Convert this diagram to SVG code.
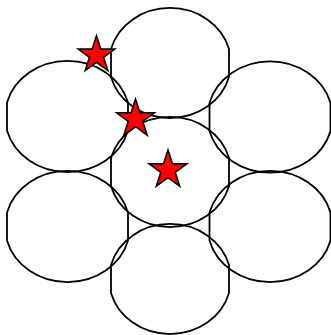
<svg xmlns="http://www.w3.org/2000/svg" xmlns:xlink="http://www.w3.org/1999/xlink" width="331" height="335" viewBox="0 0 331 335">
<style>
.c{fill:none;stroke:#000;stroke-width:1.8}
.s{fill:#f00;stroke:#000;stroke-width:1.5;stroke-linejoin:miter}
</style>
<defs>
<path id="circ" d="M-59,-14 A61 55 0 0 1 59,-14 L59,14 A61 55 0 0 1 -59,14 Z"/>
<path id="circw" d="M-60.5,-14 A62.5 55.5 0 0 1 60.5,-14 L60.5,14 A62.5 55.5 0 0 1 -60.5,14 Z"/>
<polygon id="star" points="0,-20 4.49,-6.18 19.02,-6.18 7.27,2.36 11.76,16.18 0,7.64 -11.76,16.18 -7.27,2.36 -19.02,-6.18 -4.49,-6.18"/>
</defs>
<rect width="331" height="335" fill="#fff"/>
<g id="circle-top"><use xlink:href="#circ" class="c" transform="translate(170,63)"/></g>
<g id="circle-center"><use xlink:href="#circ" class="c" transform="translate(170,172)"/></g>
<g id="circle-bottom"><use xlink:href="#circ" class="c" transform="translate(170,279)"/></g>
<g id="circle-upper-left"><use xlink:href="#circw" class="c" transform="translate(67.5,116.5)"/></g>
<g id="circle-lower-left"><use xlink:href="#circw" class="c" transform="translate(67.5,226.5)"/></g>
<g id="circle-upper-right"><use xlink:href="#circw" class="c" transform="translate(270,117)"/></g>
<g id="circle-lower-right"><use xlink:href="#circw" class="c" transform="translate(270,226.5)"/></g>
<g id="connectors"/>
<g id="star-1"><use xlink:href="#star" class="s" transform="translate(96.5,55) scale(0.97)"/></g>
<g id="star-2"><use xlink:href="#star" class="s" transform="translate(135.5,119)"/></g>
<g id="star-3"><use xlink:href="#star" class="s" transform="translate(168,170)"/></g>
</svg>
